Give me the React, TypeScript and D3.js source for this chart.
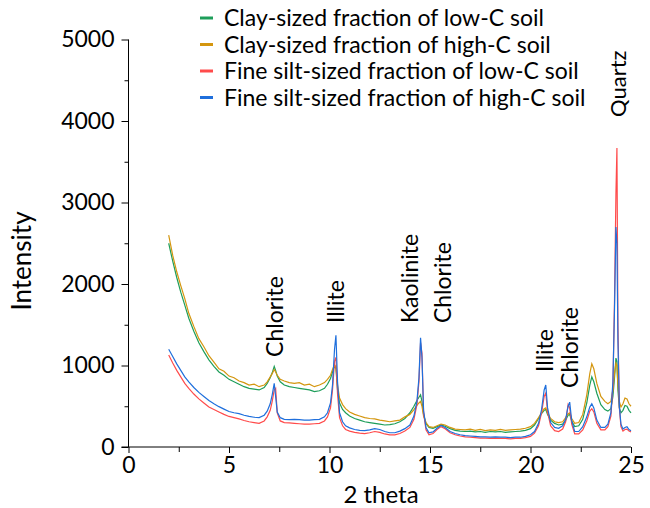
import React, { useEffect, useRef } from 'react';
import * as d3 from 'd3';

// 2 theta positions (denser around the peaks)
const twoTheta = [
  2.0, 2.2, 2.4, 2.6, 2.8, 3.0, 3.25, 3.5, 3.75, 4.0,
  4.25, 4.5, 4.75, 5.0, 5.25, 5.5, 5.75, 6.0, 6.25, 6.5,
  6.75, 6.9, 7.05, 7.15, 7.25, 7.32, 7.4, 7.55, 7.75, 8.0,
  8.25, 8.5, 8.75, 9.0, 9.25, 9.5, 9.75, 9.9, 10.05, 10.15,
  10.25, 10.32, 10.4, 10.5, 10.65, 10.8, 11.0, 11.25, 11.5, 11.75,
  12.0, 12.25, 12.5, 12.75, 13.0, 13.25, 13.5, 13.75, 14.0, 14.2,
  14.35, 14.45, 14.53, 14.6, 14.68, 14.8, 14.95, 15.15, 15.35, 15.55,
  15.75, 16.0, 16.25, 16.5, 16.75, 17.0, 17.25, 17.5, 17.75, 18.0,
  18.25, 18.5, 18.75, 19.0, 19.25, 19.5, 19.75, 20.0, 20.2, 20.4,
  20.55, 20.68, 20.76, 20.85, 21.0, 21.2, 21.4, 21.6, 21.75, 21.87,
  21.95, 22.05, 22.2, 22.4, 22.6, 22.8, 22.95, 23.05, 23.15, 23.3,
  23.5, 23.7, 23.85, 24.0, 24.1, 24.18, 24.25, 24.3, 24.35, 24.42,
  24.5, 24.6, 24.7, 24.8, 24.9, 25.0
];

const clayLowC = [
  2500, 2280, 2080, 1900, 1740, 1580, 1420, 1280, 1170, 1070,
  990, 920, 880, 830, 800, 770, 740, 720, 710, 700,
  730, 780, 850, 910, 990, 940, 870, 800, 760, 740,
  730, 720, 710, 700, 680, 690, 720, 770, 840, 920,
  1000, 960, 700, 540, 460, 420, 380, 350, 330, 310,
  300, 290, 280, 270, 275, 285, 310, 350, 420, 500,
  570, 610, 640, 560, 400, 290, 240, 230, 250, 270,
  255, 225, 205, 195, 190, 195, 185, 190, 180, 190,
  185, 190, 180, 185, 190, 195, 205, 225, 270, 350,
  410, 450, 460, 400, 330, 290, 270, 280, 330, 390,
  400, 320, 250, 260, 340, 540, 760, 860, 800, 660,
  520, 460, 440, 470, 620, 850, 1090, 1050, 700, 480,
  420, 450, 510, 500, 450, 420
];

const clayHighC = [
  2600, 2350, 2150, 1980, 1820, 1640, 1480, 1330, 1230, 1120,
  1040, 960, 930, 870, 850, 810, 790, 760, 770, 740,
  760, 800, 860, 900, 950, 920, 880, 830, 810, 790,
  780, 790, 760, 770, 740, 760, 790, 830, 880, 950,
  1010, 980, 760, 600, 520, 470, 430, 400, 380, 360,
  350, 345, 330, 320, 310, 320, 330, 370, 400, 460,
  510, 540, 560, 500, 380, 300, 250, 240, 260, 280,
  270, 240, 220, 215, 210, 220, 205, 215, 200, 210,
  205, 215, 205, 210, 215, 220, 230, 250, 290, 360,
  420, 470, 480, 420, 350, 310, 300, 310, 360, 410,
  420, 350, 290, 300, 400, 640, 900, 1020, 960, 780,
  620, 560, 530, 560, 700, 900, 1030, 1000, 760, 560,
  490, 530, 600, 590, 530, 500
];

const siltLowC = [
  1130, 1030, 940, 860, 780, 720, 650, 590, 540, 490,
  460, 430, 400, 375, 360, 345, 325, 310, 300, 290,
  320, 370, 450, 560, 700, 720, 420, 320, 300, 295,
  290, 285, 280, 280, 285, 290, 320, 370, 480, 700,
  1050, 1100, 650, 360, 260, 215, 195, 180, 170, 165,
  175, 190, 180, 160, 150, 150, 165, 195, 240, 340,
  520, 800, 1280, 1150, 420, 210, 150, 165, 215, 250,
  225, 175, 150, 135, 125, 120, 115, 110, 110, 105,
  110, 105, 105, 100, 105, 105, 115, 130, 170, 260,
  420, 620, 660, 430, 260, 200, 190, 220, 310, 520,
  480, 280, 160, 160, 210, 320, 440, 470, 430, 290,
  210, 210, 250, 380, 750, 1800, 3100, 3670, 1500, 480,
  250, 195, 215, 220, 195, 185
];

const siltHighC = [
  1200, 1110, 1020, 940, 860, 800, 730, 670, 620, 570,
  530, 495, 465, 435, 420, 410, 390, 375, 365, 360,
  390, 440, 530, 640, 780, 620, 430, 360, 340, 335,
  340, 335, 330, 330, 335, 340, 370, 420, 540, 760,
  1200, 1370, 800, 420, 310, 260, 235, 215, 205, 200,
  210, 225, 215, 190, 175, 175, 195, 225, 270, 380,
  560, 850, 1340, 1100, 450, 240, 175, 185, 230, 265,
  240, 190, 165, 150, 140, 135, 130, 125, 125, 120,
  125, 120, 120, 115, 120, 120, 130, 150, 190, 290,
  460, 700, 760, 480, 300, 240, 230, 260, 340, 500,
  550, 320, 190, 190, 250, 370, 490, 530, 480, 330,
  240, 240, 280, 420, 800, 1700, 2700, 2500, 1300, 500,
  280, 220, 240, 250, 215, 200
];

const seriesNames = [
  'Clay-sized fraction of low-C soil',
  'Clay-sized fraction of high-C soil',
  'Fine silt-sized fraction of low-C soil',
  'Fine silt-sized fraction of high-C soil'
];
const seriesColors = ['#1e9e5a', '#d4960f', '#ff4b4b', '#1f6fdc'];

const yTicks = [0, 1000, 2000, 3000, 4000, 5000];
const yMinor = [500, 1500, 2500, 3500, 4500];
const xTicks = [0, 5, 10, 15, 20, 25];
const xMinor = [2.5, 7.5, 12.5, 17.5, 22.5];

// peak annotations: name, 2 theta, intensity at the bottom of the label
const peakNames = ['Chlorite', 'Illite', 'Kaolinite', 'Chlorite', 'Illite', 'Chlorite', 'Quartz'];
const peakTheta = [7.3, 10.33, 14.0, 15.65, 20.7, 21.96, 24.35];
const peakLevel = [1105, 1520, 1520, 1520, 920, 725, 4050];

const FONT = "Lato, 'Open Sans', sans-serif";

export default function App() {
  const axisRef = useRef<SVGGElement | null>(null);

  const x = d3.scaleLinear().domain([0, 25]).range([128.5, 631]);
  const y = d3.scaleLinear().domain([0, 5000]).range([447, 39.5]);

  const series = [clayLowC, clayHighC, siltLowC, siltHighC];
  const line = d3.line<number>()
    .x((_, i) => x(twoTheta[i]))
    .y((d) => y(d));

  useEffect(() => {
    const g = d3.select(axisRef.current);
    g.selectAll('*').remove();

    const yAxis = g.append('g').attr('transform', `translate(${x(0)},0)`)
      .call(d3.axisLeft(y).tickValues(yTicks).tickSize(7).tickPadding(7).tickFormat(d3.format('d')));
    g.append('g').attr('transform', `translate(${x(0)},0)`)
      .call(d3.axisLeft(y).tickValues(yMinor).tickSize(4).tickFormat(() => ''))
      .call((s) => s.select('.domain').remove());

    const xAxis = g.append('g').attr('transform', `translate(0,${y(0)})`)
      .call(d3.axisBottom(x).tickValues(xTicks).tickSize(6).tickPadding(4).tickFormat(d3.format('d')));
    g.append('g').attr('transform', `translate(0,${y(0)})`)
      .call(d3.axisBottom(x).tickValues(xMinor).tickSize(5).tickFormat(() => ''))
      .call((s) => s.select('.domain').remove());

    [yAxis, xAxis].forEach((a) => {
      a.select('.domain').remove();
      a.selectAll('text').style('font-family', FONT).style('font-size', '23px').attr('fill', '#000');
    });
    g.append('line')
      .attr('x1', x(0)).attr('x2', x(0)).attr('y1', y(0)).attr('y2', y(5000))
      .attr('stroke', '#000');
    g.append('line')
      .attr('x1', x(0) - 7).attr('x2', x(25)).attr('y1', y(0)).attr('y2', y(0))
      .attr('stroke', '#000');
  }, []);

  return (
    <svg width={650} height={508} style={{ position: 'absolute', left: 0, top: 0, background: '#fff' }}
      fontFamily={FONT}>
      {series.map((s, i) => (
        <path key={i} d={line(s) || ''} fill="none" stroke={seriesColors[i]} strokeWidth={1.2} />
      ))}
      <g ref={axisRef} />

      {peakNames.map((name, i) => (
        <text key={i} transform={`translate(${x(peakTheta[i])},${y(peakLevel[i])}) rotate(-90)`}
          dy="0.35em" fontSize={i === 6 ? 22 : 23} fill="#000">{name}</text>
      ))}

      {seriesNames.map((name, i) => (
        <g key={name} transform={`translate(200,${18 + i * 26.5})`}>
          <line x1={0} x2={13} y1={0} y2={0} stroke={seriesColors[i]} strokeWidth={3} />
          <text x={24} dy="0.35em" fontSize={23} fill="#000">{name}</text>
        </g>
      ))}

      <text transform="translate(22,261) rotate(-90)" textAnchor="middle" dy="0.35em" fontSize={26}>Intensity</text>
      <text x={381} y={495} textAnchor="middle" dy="0.35em" fontSize={24}>2 theta</text>
    </svg>
  );
}
